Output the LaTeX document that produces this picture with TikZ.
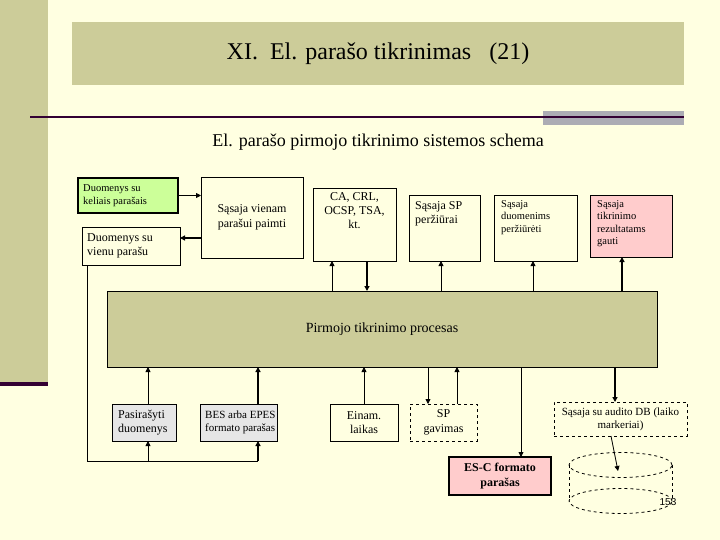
\documentclass[tikz,border=0pt]{standalone}
\usepackage{fontspec}
\setmainfont{Liberation Serif}
\newfontfamily\numfont{Liberation Sans}
\usetikzlibrary{arrows.meta}
\definecolor{bgc}{RGB}{255,255,225}
\definecolor{olive}{RGB}{204,204,153}
\definecolor{darkp}{RGB}{51,0,51}
\definecolor{grayb}{RGB}{172,172,180}
\definecolor{greenb}{RGB}{204,255,153}
\definecolor{pinkb}{RGB}{255,204,204}
\definecolor{grayf}{RGB}{230,230,230}
\newcommand{\fs}[1]{\fontsize{#1pt}{1.2\dimexpr#1pt\relax}\selectfont}
\tikzset{
  box/.style={draw=black, line width=0.8pt, anchor=north west, inner sep=0pt, outer sep=0pt},
  arr/.style={line width=0.8pt, -{Triangle[length=5pt,width=5pt]}},
  tarr/.style={line width=1.6pt, -{Triangle[length=5pt,width=5pt]}},
  ln/.style={line width=0.8pt},
}
\begin{document}
\begin{tikzpicture}[x=1pt,y=-1pt]
\useasboundingbox (0,0) rectangle (720,540);
\fill[bgc] (0,0) rectangle (720,540);
% left strip
\fill[olive] (0,0) rectangle (48,382);
\fill[darkp] (0,382) rectangle (48,386);
% title band
\fill[olive] (72,22) rectangle (684,85);
\node[font=\fs{24}] (title) at (378,54) {XI.\ \ El. parašo tikrinimas\ \ \ (21)};
% rule
\fill[grayb] (543,111) rectangle (684,125);
\draw[darkp, line width=2pt] (30,117) -- (684,117);
\node[font=\fs{18}] (sub) at (378,142) {El. parašo pirmojo tikrinimo sistemos schema};

% top boxes
\node[box, line width=2pt, fill=greenb, minimum width=100pt, minimum height=35pt] (G) at (78,178) {};
\node[anchor=west, align=left, font=\fs{10.5}, inner sep=0pt] (Gt) at ([xshift=5pt]G.west) {Duomenys su\\keliais parašais};
\node[box, fill=bgc, minimum width=98pt, minimum height=38pt] (V1) at (82,227) {};
\node[anchor=west, align=left, font=\fs{12}, inner sep=0pt] (V1t) at ([xshift=5pt]V1.west) {Duomenys su\\vienu parašu};
\node[box, minimum width=102pt, minimum height=81pt] (S1) at (201,177) {};
\node[align=center, font=\fs{12}, inner sep=0pt] (S1t) at (S1.center) {Sąsaja vienam\\parašui paimti};
\node[box, minimum width=83pt, minimum height=73pt] (CA) at (313,188) {};
\node[anchor=north, align=center, font=\fs{12}, inner sep=0pt] (CAt) at ([yshift=-4pt]CA.north) {CA, CRL,\\OCSP, TSA,\\kt.};
\node[box, minimum width=71pt, minimum height=66pt] (SPp) at (409,195) {};
\node[anchor=north west, align=left, font=\fs{12}, inner sep=0pt] (SPpt) at ([shift={(6pt,-6pt)}]SPp.north west) {Sąsaja SP\\peržiūrai};
\node[box, minimum width=83pt, minimum height=66pt] (DP) at (494,195) {};
\node[anchor=north west, align=left, font=\fs{10.5}, inner sep=0pt] (DPt) at ([shift={(7pt,-5pt)}]DP.north west) {Sąsaja\\duomenims\\peržiūrėti};
\node[box, fill=pinkb, minimum width=82pt, minimum height=62pt] (TR) at (590,195) {};
\node[anchor=north west, align=left, font=\fs{10.5}, inner sep=0pt] (TRt) at ([shift={(7pt,-5pt)}]TR.north west) {Sąsaja\\tikrinimo\\rezultatams\\gauti};

% process
\node[box, fill=olive, minimum width=550pt, minimum height=76pt] (P) at (107,291) {};
\node[font=\fs{14}, inner sep=0pt] (Pt) at (P.center) {Pirmojo tikrinimo procesas};

% bottom boxes
\node[box, fill=grayf, minimum width=64pt, minimum height=37pt] (PD) at (112,404) {};
\node[anchor=west, align=left, font=\fs{12}, inner sep=0pt] (PDt) at ([xshift=6pt]PD.west) {Pasirašyti\\duomenys};
\node[box, fill=grayf, minimum width=77pt, minimum height=37pt] (BES) at (200,404) {};
\node[anchor=west, align=left, font=\fs{11}, inner sep=0pt] (BESt) at ([xshift=5pt]BES.west) {BES arba EPES\\formato parašas};
\node[box, minimum width=68pt, minimum height=37pt] (EL) at (330,404) {};
\node[align=center, font=\fs{12}, inner sep=0pt] (ELt) at (EL.center) {Einam.\\laikas};
\node[box, dashed, minimum width=67pt, minimum height=37pt] (SPG) at (410,404) {};
\node[align=center, font=\fs{12}, inner sep=0pt] (SPGt) at (SPG.center) {SP\\gavimas};
\node[box, line width=2pt, fill=pinkb, minimum width=102pt, minimum height=38pt] (ESC) at (449,457) {};
\node[align=center, font=\fs{12}\bfseries, inner sep=0pt] (ESCt) at (ESC.center) {ES-C formato\\parašas};
\node[box, dashed, minimum width=133pt, minimum height=34pt] (AUD) at (554,402) {};
\node[align=center, font=\fs{11}, inner sep=0pt] (AUDt) at (AUD.center) {Sąsaja su audito DB (laiko\\markeriai)};

% cylinder
\draw[dashed, ln] (620.5,465) ellipse [x radius=51.5pt, y radius=12.5pt];
\draw[dashed, ln] (620.5,501) ellipse [x radius=51.5pt, y radius=12.5pt];
\draw[dashed, ln] (569,465) -- (569,501);
\draw[dashed, ln] (672,465) -- (672,501);
\coordinate (cyl) at (618,471);
\node[font=\numfont\fs{10}, inner sep=0pt] (num) at (668,502) {153};

% x positions
\coordinate (x148) at (148,0);
\coordinate (x258) at (258,0);
\coordinate (x332) at (332,0);
\coordinate (x367) at (367,0);
\coordinate (x441) at (441,0);
\coordinate (x533) at (533,0);
\coordinate (x622) at (622,0);
\coordinate (x364) at (364,0);
\coordinate (x428) at (428,0);
\coordinate (x457) at (457,0);
\coordinate (x521) at (521,0);
\coordinate (x615) at (615,0);
\coordinate (x87) at (87,0);
\coordinate (y461) at (0,461);

% top connectors
\draw[arr] (G.east) -- (G.east -| S1.west);
\coordinate (y238) at (0,238);
\draw[tarr] (S1.west |- y238) -- (V1.east |- y238);
\draw[arr] (P.north -| x332) -- (CA.south -| x332);
\draw[tarr] (CA.south -| x367) -- (P.north -| x367);
\draw[arr] (P.north -| x441) -- (SPp.south -| x441);
\draw[arr] (P.north -| x533) -- (DP.south -| x533);
\draw[tarr] (P.north -| x622) -- (TR.south -| x622);

% left loop
\coordinate (c1) at (x87 |- y461);
\coordinate (c2) at (x258 |- y461);
\draw[ln] (V1.south -| x87) -- (c1) -- (c2);
\draw[arr] (x148 |- y461) -- (PD.south -| x148);
\draw[tarr] (c2) -- (BES.south -| x258);

% bottom connectors
\draw[arr] (PD.north -| x148) -- (P.south -| x148);
\draw[tarr] (BES.north -| x258) -- (P.south -| x258);
\draw[arr] (EL.north -| x364) -- (P.south -| x364);
\draw[arr] (P.south -| x428) -- (SPG.north -| x428);
\draw[arr] (SPG.north -| x457) -- (P.south -| x457);
\draw[arr] (P.south -| x521) -- (ESC.north -| x521);
\draw[tarr] (P.south -| x615) -- (AUD.north -| x615);
\draw[arr] ([xshift=-4pt]AUD.south -| x615) -- (cyl);
\end{tikzpicture}
\end{document}
